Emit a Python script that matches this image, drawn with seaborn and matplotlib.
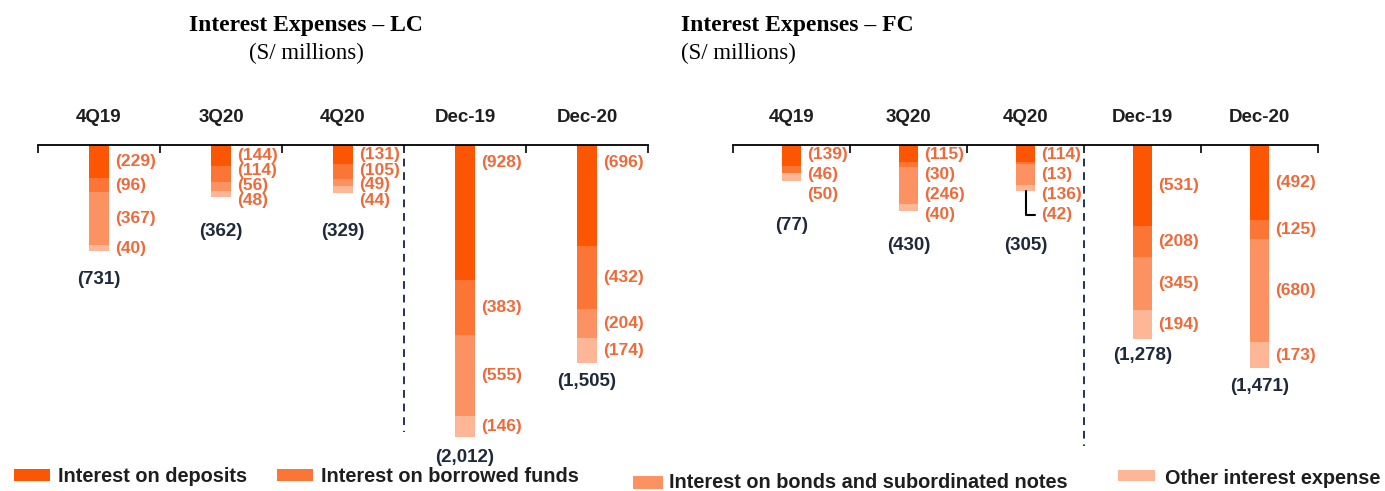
import numpy as np
import pandas as pd
import matplotlib
matplotlib.use("Agg")
import matplotlib.pyplot as plt
import seaborn as sns
from matplotlib.patches import Rectangle

# ---------------- data ----------------
categories = ["4Q19", "3Q20", "4Q20", "Dec-19", "Dec-20"]
series_names = ["Interest on deposits", "Interest on borrowed funds",
                "Interest on bonds and subordinated notes", "Other interest expense"]

lc_deposits = [229, 144, 131, 928, 696]
lc_borrowed = [96, 114, 105, 383, 432]
lc_bonds = [367, 56, 49, 555, 204]
lc_other = [40, 48, 44, 146, 174]
lc_totals = ["(731)", "(362)", "(329)", "(2,012)", "(1,505)"]

fc_deposits = [139, 115, 114, 531, 492]
fc_borrowed = [46, 30, 13, 208, 125]
fc_bonds = [0, 246, 136, 345, 680]
fc_other = [50, 40, 42, 194, 173]
fc_totals = ["(77)", "(430)", "(305)", "(1,278)", "(1,471)"]

colors = ["#FC5504", "#FB7535", "#FC9262", "#FDB797"]
label_color = "#EE6A3A"
total_color = "#1E2A3A"
navy = "#243352"

# ---------------- figure ----------------
W, H, DPI = 1385, 491, 100
sns.set_theme(style="white")
plt.rcParams["font.family"] = ["Liberation Sans", "DejaVu Sans"]
fig = plt.figure(figsize=(W / DPI, H / DPI), dpi=DPI)


def px_axes(left, right, top, bottom):
    return fig.add_axes([left / W, (H - bottom) / H, (right - left) / W, (bottom - top) / H])


def spread(desired, gap, top_min):
    groups = []
    for d in desired:
        groups.append([d])
        while len(groups) > 1:
            prev, last = groups[-2], groups[-1]
            sp = np.mean([v - j * gap for j, v in enumerate(prev)])
            sl = np.mean([v - j * gap for j, v in enumerate(last)])
            if sl < sp + len(prev) * gap:
                groups[-2] = prev + last
                groups.pop()
            else:
                break
    pos = []
    for g in groups:
        s = np.mean([v - j * gap for j, v in enumerate(g)])
        pos += [s + j * gap for j in range(len(g))]
    out = []
    for i, p in enumerate(pos):
        if i == 0:
            out.append(max(p, top_min))
        else:
            out.append(max(p, out[-1] + gap))
    return out


def draw_panel(ax, series, totals, ymin, gap, first_cap, top_min, ax_height_px):
    df = pd.DataFrame({"category": categories})
    cum = np.cumsum(np.array(series, dtype=float), axis=0)
    for k in range(len(series)):
        df[f"cum{k}"] = -cum[k]
    width = 0.17
    for k in reversed(range(len(series))):
        sns.barplot(data=df, x="category", y=f"cum{k}", order=categories, color=colors[k],
                    saturation=1, width=width, errorbar=None, linewidth=0, ax=ax)
    ax.set_xlim(-0.5, len(categories) - 0.5)
    ax.set_ylim(ymin, 0)
    ax.set_xlabel("")
    ax.set_ylabel("")
    ax.set_yticks([])
    ax.xaxis.tick_top()
    ax.set_xticks(range(len(categories)))
    ax.set_xticklabels(categories, fontsize=13.5, fontweight="bold", color="#1E1E1E")
    ax.set_xticks(np.arange(-0.5, len(categories), 1), minor=True)
    ax.tick_params(axis="x", which="major", length=0, pad=14, top=True, bottom=False)
    ax.tick_params(axis="x", which="minor", direction="in", length=6, width=1.2,
                   color="black", top=True, bottom=False)
    for s in ["left", "right", "bottom"]:
        ax.spines[s].set_visible(False)
    ax.spines["top"].set_color("black")
    ax.spines["top"].set_linewidth(1.3)
    ax.set_facecolor("none")

    ppu = ax_height_px / (0 - ymin)
    for i, cat in enumerate(categories):
        vals = [series[k][i] for k in range(len(series))]
        tops = np.concatenate([[0], np.cumsum(vals)[:-1]])
        idx = [k for k in range(len(vals)) if vals[k] > 0]
        desired = [(tops[k] + vals[k] / 2) * ppu for k in idx]
        if first_cap is not None:
            desired[0] = min(desired[0], first_cap)
        ys = spread(desired, gap, top_min)
        for k, y in zip(idx, ys):
            ax.annotate(f"({vals[k]:,})", xy=(i + width / 2, -y / ppu), xytext=(4, 0),
                        textcoords="offset points", ha="left", va="center",
                        fontsize=12.5, fontweight="bold", color=label_color,
                        annotation_clip=False)
        bottom_px = sum(vals) * ppu
        if ys[-1] > bottom_px + 15:
            ax.plot([i, i, i + width / 2], [-bottom_px / ppu, -ys[-1] / ppu, -ys[-1] / ppu],
                    color="black", lw=1.5, clip_on=False)
        ax.text(i, -(ys[-1] + 31) / ppu, totals[i], ha="center", va="center",
                fontsize=13.5, fontweight="bold", color=total_color, clip_on=False)
    ax.plot([2.5, 2.5], [0, -1980], color=navy, lw=1.4, ls=(0, (4, 3)), clip_on=False)


ax_top, ax_bottom = 145, 480
ax_lc = px_axes(38, 648, ax_top, ax_bottom)
ax_fc = px_axes(733, 1318, ax_top, ax_bottom)

draw_panel(ax_lc, [lc_deposits, lc_borrowed, lc_bonds, lc_other], lc_totals,
           -2310, 15, 17, 10, ax_bottom - ax_top)
draw_panel(ax_fc, [fc_deposits, fc_borrowed, fc_bonds, fc_other], fc_totals,
           -2204, 20, None, 10, ax_bottom - ax_top)

# ---------------- titles ----------------
serif = ["Liberation Serif", "DejaVu Serif"]
fig.text(306 / W, 1 - 25 / H, "Interest Expenses \u2013 LC", ha="center", va="center",
         family=serif, fontsize=17, fontweight="bold", color="black")
fig.text(306 / W, 1 - 53 / H, "(S/ millions)", ha="center", va="center",
         family=serif, fontsize=16.5, color="black")
fig.text(681 / W, 1 - 25 / H, "Interest Expenses \u2013 FC", ha="left", va="center",
         family=serif, fontsize=17, fontweight="bold", color="black")
fig.text(681 / W, 1 - 53 / H, "(S/ millions)", ha="left", va="center",
         family=serif, fontsize=16.5, color="black")

# ---------------- legend ----------------
legend_boxes = [(14, 50, 469, 481, 58, 477), (277, 313, 469, 481, 321, 477),
                (633, 663, 476, 489, 669, 483), (1118, 1155, 470, 481, 1165, 478)]
for (x0, x1, y0, y1, tx, ty), name, c in zip(legend_boxes, series_names, colors):
    fig.patches.append(Rectangle((x0 / W, 1 - y1 / H), (x1 - x0) / W, (y1 - y0) / H,
                                 transform=fig.transFigure, facecolor=c, edgecolor="none"))
    fig.text(tx / W, 1 - ty / H, name, ha="left", va="center", fontsize=14.3,
             fontweight="bold", color="#1E1E1E")

fig.savefig("out.png", dpi=DPI, facecolor="white")
